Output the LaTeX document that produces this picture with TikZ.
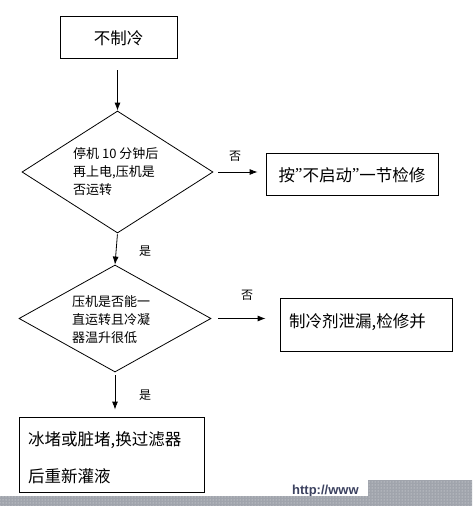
\documentclass[tikz,border=0pt]{standalone}
\usepackage{fontspec}
\newfontfamily\cjk{Noto Sans CJK SC}
\newfontfamily\wm{Liberation Sans}
\newfontfamily\qf{Liberation Serif}
\usetikzlibrary{shapes.geometric,arrows.meta,patterns}
\definecolor{wmgray}{RGB}{160,164,172}
\definecolor{wmtext}{RGB}{60,66,96}
\tikzset{
  box/.style={draw,line width=0.8pt,rectangle,inner sep=0pt},
  dia/.style={draw,line width=0.8pt,diamond,inner sep=0pt,shape aspect=1},
  btxt/.style={font=\cjk\fontsize{16.5}{18}\selectfont,inner sep=0pt},
  dtxt/.style={font=\cjk\fontsize{13}{18}\selectfont,inner sep=0pt,align=left},
  lbl/.style={font=\cjk\fontsize{12}{14}\selectfont,inner sep=0pt},
  arr/.style={line width=0.8pt,-{Latex[length=8pt,width=6pt]}}
}
\begin{document}
\begin{tikzpicture}[x=1pt,y=-1pt]
\useasboundingbox (0,0) rectangle (472,506);
\fill[white] (0,0) rectangle (472,506);
% boxes
\node[box,minimum width=117pt,minimum height=42pt] (b1) at (118.5,37) {};
\node[btxt] (t1) at (118.5,38) {不制冷};
\node[box,minimum width=172pt,minimum height=42pt] (b2) at (352,174) {};
\node[btxt] (t2) at (352,175) {按{\qf\raisebox{2pt}{”}}不启动{\qf\raisebox{2pt}{”}}一节检修};
\node[box,minimum width=172pt,minimum height=53pt] (b3) at (366,324.5) {};
\node[btxt,anchor=west] (t3) at (289,322) {制冷剂泄漏,检修并};
\node[box,minimum width=185pt,minimum height=75pt] (b4) at (111.5,454.5) {};
\node[btxt,anchor=west] (t4a) at (28,440) {冰堵或脏堵,换过滤器};
\node[btxt,anchor=west] (t4b) at (28,476) {后重新灌液};
% diamonds
\node[dia,minimum width=191pt,minimum height=122pt] (d1) at (117.5,172) {};
\node[dtxt,anchor=west] (dt1) at (73,172) {停机 10 分钟后\\再上电,压机是\\否运转};
\node[dia,minimum width=192pt,minimum height=107pt] (d2) at (115,318.5) {};
\node[dtxt,anchor=west] (dt2) at (72,320) {压机是否能一\\直运转且冷凝\\器温升很低};
% arrows
\draw[arr,shorten <=12pt] (b1.south -| d1.north) -- (d1.north);
\draw[arr,shorten <=5pt,shorten >=8pt] (d1.east) -- (d1.east -| b2.west);
\draw[arr,shorten <=1pt] (d1.south) -- (d2.north);
\draw[arr,shorten <=7pt,shorten >=14pt] (d2.east) -- (d2.east -| b3.west);
\draw[arr,shorten <=3pt,shorten >=7pt] (d2.south) -- (d2.south |- b4.north);
% labels
\node[lbl] (l1) at (235,156) {否};
\node[lbl] (l2) at (145,251) {是};
\node[lbl] (l3) at (247,295) {否};
\node[lbl] (l4) at (145,395) {是};
% watermark
\node[font=\wm\bfseries\fontsize{13}{14}\selectfont,text=wmtext,anchor=west,inner sep=0pt] (w) at (292,491) {http://www};
\fill[wmgray] (0,496) -- (368,496) -- (368,480) -- (472,480) -- (472,506) -- (0,506) -- cycle;
\fill[pattern=dots,pattern color=white!75!wmgray] (0,496) -- (368,496) -- (368,480) -- (472,480) -- (472,506) -- (0,506) -- cycle;
\end{tikzpicture}
\end{document}
